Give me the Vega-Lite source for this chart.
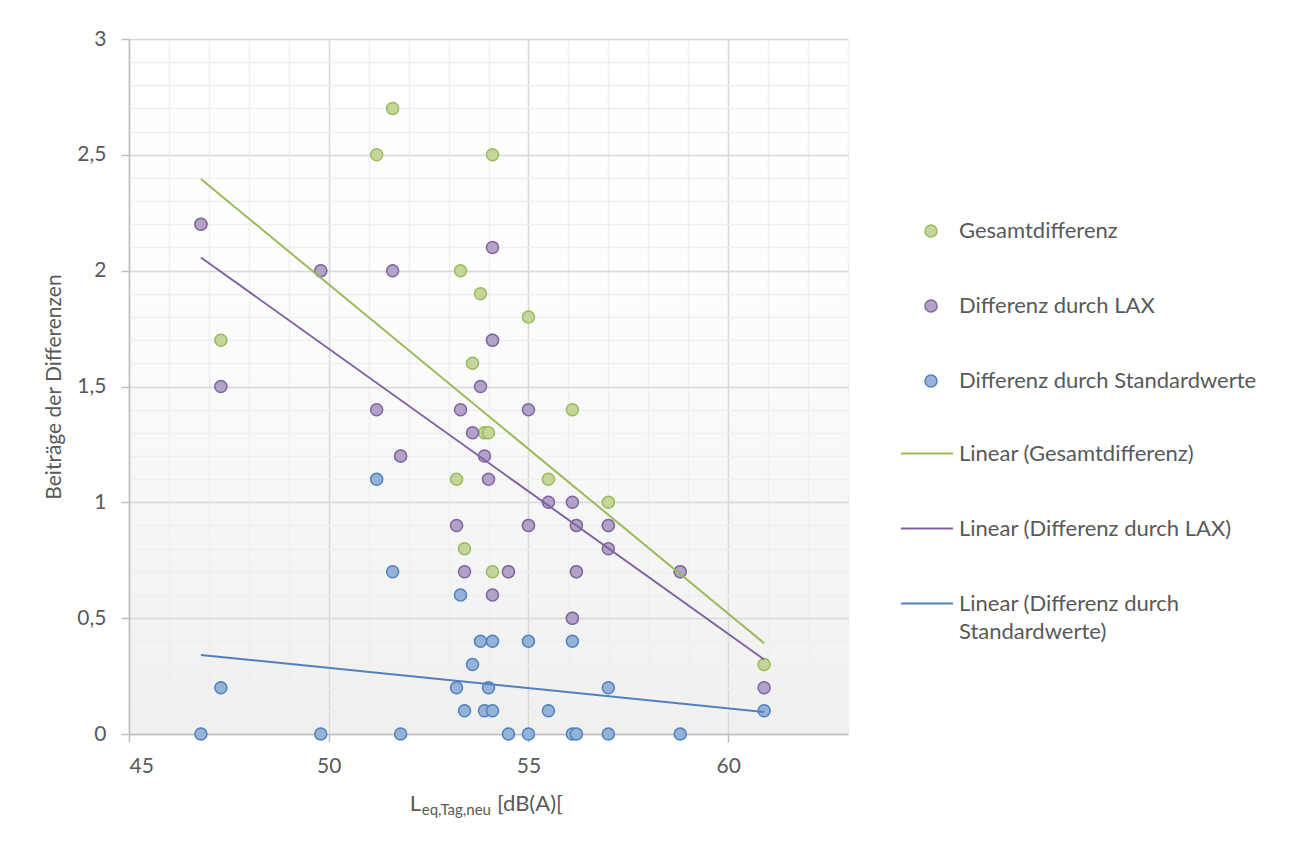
{
  "$schema": "https://vega.github.io/schema/vega-lite/v6.json",
  "width": 719,
  "height": 695,
  "autosize": {"type": "none"},
  "padding": {"left": 129, "top": 39, "right": 445, "bottom": 109},
  "background": "#ffffff",
  "config": {
    "font": "Lato",
    "view": {
      "stroke": null,
      "fill": {"gradient": "linear", "x1": 0, "y1": 0, "x2": 0, "y2": 1,
        "stops": [{"offset": 0, "color": "#ffffff"}, {"offset": 0.35, "color": "#fdfdfd"}, {"offset": 1, "color": "#f0f0f0"}]}
    },
    "legend": {"padding": 0, "labelFont": "Lato", "labelFontSize": 22, "labelColor": "#595959", "labelLimit": 400},
    "style": {"guide-label": {"lineHeight": 28}}
  },
  "datasets": {
    "d": [
      {"x": 46.8, "y": 2.2, "series": "Gesamtdifferenz", "trend": "Linear (Gesamtdifferenz)"},
      {"x": 47.3, "y": 1.7, "series": "Gesamtdifferenz", "trend": "Linear (Gesamtdifferenz)"},
      {"x": 49.8, "y": 2.0, "series": "Gesamtdifferenz", "trend": "Linear (Gesamtdifferenz)"},
      {"x": 51.2, "y": 2.5, "series": "Gesamtdifferenz", "trend": "Linear (Gesamtdifferenz)"},
      {"x": 51.6, "y": 2.7, "series": "Gesamtdifferenz", "trend": "Linear (Gesamtdifferenz)"},
      {"x": 51.8, "y": 1.2, "series": "Gesamtdifferenz", "trend": "Linear (Gesamtdifferenz)"},
      {"x": 53.2, "y": 1.1, "series": "Gesamtdifferenz", "trend": "Linear (Gesamtdifferenz)"},
      {"x": 53.3, "y": 2.0, "series": "Gesamtdifferenz", "trend": "Linear (Gesamtdifferenz)"},
      {"x": 53.4, "y": 0.8, "series": "Gesamtdifferenz", "trend": "Linear (Gesamtdifferenz)"},
      {"x": 53.6, "y": 1.6, "series": "Gesamtdifferenz", "trend": "Linear (Gesamtdifferenz)"},
      {"x": 53.8, "y": 1.9, "series": "Gesamtdifferenz", "trend": "Linear (Gesamtdifferenz)"},
      {"x": 53.9, "y": 1.3, "series": "Gesamtdifferenz", "trend": "Linear (Gesamtdifferenz)"},
      {"x": 54.0, "y": 1.3, "series": "Gesamtdifferenz", "trend": "Linear (Gesamtdifferenz)"},
      {"x": 54.1, "y": 2.5, "series": "Gesamtdifferenz", "trend": "Linear (Gesamtdifferenz)"},
      {"x": 54.1, "y": 0.7, "series": "Gesamtdifferenz", "trend": "Linear (Gesamtdifferenz)"},
      {"x": 54.1, "y": 1.7, "series": "Gesamtdifferenz", "trend": "Linear (Gesamtdifferenz)"},
      {"x": 54.5, "y": 0.7, "series": "Gesamtdifferenz", "trend": "Linear (Gesamtdifferenz)"},
      {"x": 55.0, "y": 1.8, "series": "Gesamtdifferenz", "trend": "Linear (Gesamtdifferenz)"},
      {"x": 55.0, "y": 0.9, "series": "Gesamtdifferenz", "trend": "Linear (Gesamtdifferenz)"},
      {"x": 55.5, "y": 1.1, "series": "Gesamtdifferenz", "trend": "Linear (Gesamtdifferenz)"},
      {"x": 56.1, "y": 1.4, "series": "Gesamtdifferenz", "trend": "Linear (Gesamtdifferenz)"},
      {"x": 56.1, "y": 0.5, "series": "Gesamtdifferenz", "trend": "Linear (Gesamtdifferenz)"},
      {"x": 56.2, "y": 0.9, "series": "Gesamtdifferenz", "trend": "Linear (Gesamtdifferenz)"},
      {"x": 56.2, "y": 0.7, "series": "Gesamtdifferenz", "trend": "Linear (Gesamtdifferenz)"},
      {"x": 57.0, "y": 1.0, "series": "Gesamtdifferenz", "trend": "Linear (Gesamtdifferenz)"},
      {"x": 57.0, "y": 0.9, "series": "Gesamtdifferenz", "trend": "Linear (Gesamtdifferenz)"},
      {"x": 58.8, "y": 0.7, "series": "Gesamtdifferenz", "trend": "Linear (Gesamtdifferenz)"},
      {"x": 60.9, "y": 0.3, "series": "Gesamtdifferenz", "trend": "Linear (Gesamtdifferenz)"},
      {"x": 46.8, "y": 2.2, "series": "Differenz durch LAX", "trend": "Linear (Differenz durch LAX)"},
      {"x": 47.3, "y": 1.5, "series": "Differenz durch LAX", "trend": "Linear (Differenz durch LAX)"},
      {"x": 49.8, "y": 2.0, "series": "Differenz durch LAX", "trend": "Linear (Differenz durch LAX)"},
      {"x": 51.2, "y": 1.4, "series": "Differenz durch LAX", "trend": "Linear (Differenz durch LAX)"},
      {"x": 51.6, "y": 2.0, "series": "Differenz durch LAX", "trend": "Linear (Differenz durch LAX)"},
      {"x": 51.8, "y": 1.2, "series": "Differenz durch LAX", "trend": "Linear (Differenz durch LAX)"},
      {"x": 53.2, "y": 0.9, "series": "Differenz durch LAX", "trend": "Linear (Differenz durch LAX)"},
      {"x": 53.3, "y": 1.4, "series": "Differenz durch LAX", "trend": "Linear (Differenz durch LAX)"},
      {"x": 53.4, "y": 0.7, "series": "Differenz durch LAX", "trend": "Linear (Differenz durch LAX)"},
      {"x": 53.6, "y": 1.3, "series": "Differenz durch LAX", "trend": "Linear (Differenz durch LAX)"},
      {"x": 53.8, "y": 1.5, "series": "Differenz durch LAX", "trend": "Linear (Differenz durch LAX)"},
      {"x": 53.9, "y": 1.2, "series": "Differenz durch LAX", "trend": "Linear (Differenz durch LAX)"},
      {"x": 54.0, "y": 1.1, "series": "Differenz durch LAX", "trend": "Linear (Differenz durch LAX)"},
      {"x": 54.1, "y": 2.1, "series": "Differenz durch LAX", "trend": "Linear (Differenz durch LAX)"},
      {"x": 54.1, "y": 0.6, "series": "Differenz durch LAX", "trend": "Linear (Differenz durch LAX)"},
      {"x": 54.1, "y": 1.7, "series": "Differenz durch LAX", "trend": "Linear (Differenz durch LAX)"},
      {"x": 54.5, "y": 0.7, "series": "Differenz durch LAX", "trend": "Linear (Differenz durch LAX)"},
      {"x": 55.0, "y": 1.4, "series": "Differenz durch LAX", "trend": "Linear (Differenz durch LAX)"},
      {"x": 55.0, "y": 0.9, "series": "Differenz durch LAX", "trend": "Linear (Differenz durch LAX)"},
      {"x": 55.5, "y": 1.0, "series": "Differenz durch LAX", "trend": "Linear (Differenz durch LAX)"},
      {"x": 56.1, "y": 1.0, "series": "Differenz durch LAX", "trend": "Linear (Differenz durch LAX)"},
      {"x": 56.1, "y": 0.5, "series": "Differenz durch LAX", "trend": "Linear (Differenz durch LAX)"},
      {"x": 56.2, "y": 0.9, "series": "Differenz durch LAX", "trend": "Linear (Differenz durch LAX)"},
      {"x": 56.2, "y": 0.7, "series": "Differenz durch LAX", "trend": "Linear (Differenz durch LAX)"},
      {"x": 57.0, "y": 0.8, "series": "Differenz durch LAX", "trend": "Linear (Differenz durch LAX)"},
      {"x": 57.0, "y": 0.9, "series": "Differenz durch LAX", "trend": "Linear (Differenz durch LAX)"},
      {"x": 58.8, "y": 0.7, "series": "Differenz durch LAX", "trend": "Linear (Differenz durch LAX)"},
      {"x": 60.9, "y": 0.2, "series": "Differenz durch LAX", "trend": "Linear (Differenz durch LAX)"},
      {"x": 46.8, "y": 0.0, "series": "Differenz durch Standardwerte", "trend": "Linear (Differenz durch Standardwerte)"},
      {"x": 47.3, "y": 0.2, "series": "Differenz durch Standardwerte", "trend": "Linear (Differenz durch Standardwerte)"},
      {"x": 49.8, "y": 0.0, "series": "Differenz durch Standardwerte", "trend": "Linear (Differenz durch Standardwerte)"},
      {"x": 51.2, "y": 1.1, "series": "Differenz durch Standardwerte", "trend": "Linear (Differenz durch Standardwerte)"},
      {"x": 51.6, "y": 0.7, "series": "Differenz durch Standardwerte", "trend": "Linear (Differenz durch Standardwerte)"},
      {"x": 51.8, "y": 0.0, "series": "Differenz durch Standardwerte", "trend": "Linear (Differenz durch Standardwerte)"},
      {"x": 53.2, "y": 0.2, "series": "Differenz durch Standardwerte", "trend": "Linear (Differenz durch Standardwerte)"},
      {"x": 53.3, "y": 0.6, "series": "Differenz durch Standardwerte", "trend": "Linear (Differenz durch Standardwerte)"},
      {"x": 53.4, "y": 0.1, "series": "Differenz durch Standardwerte", "trend": "Linear (Differenz durch Standardwerte)"},
      {"x": 53.6, "y": 0.3, "series": "Differenz durch Standardwerte", "trend": "Linear (Differenz durch Standardwerte)"},
      {"x": 53.8, "y": 0.4, "series": "Differenz durch Standardwerte", "trend": "Linear (Differenz durch Standardwerte)"},
      {"x": 53.9, "y": 0.1, "series": "Differenz durch Standardwerte", "trend": "Linear (Differenz durch Standardwerte)"},
      {"x": 54.0, "y": 0.2, "series": "Differenz durch Standardwerte", "trend": "Linear (Differenz durch Standardwerte)"},
      {"x": 54.1, "y": 0.4, "series": "Differenz durch Standardwerte", "trend": "Linear (Differenz durch Standardwerte)"},
      {"x": 54.1, "y": 0.1, "series": "Differenz durch Standardwerte", "trend": "Linear (Differenz durch Standardwerte)"},
      {"x": 54.5, "y": 0.0, "series": "Differenz durch Standardwerte", "trend": "Linear (Differenz durch Standardwerte)"},
      {"x": 55.0, "y": 0.4, "series": "Differenz durch Standardwerte", "trend": "Linear (Differenz durch Standardwerte)"},
      {"x": 55.0, "y": 0.0, "series": "Differenz durch Standardwerte", "trend": "Linear (Differenz durch Standardwerte)"},
      {"x": 55.5, "y": 0.1, "series": "Differenz durch Standardwerte", "trend": "Linear (Differenz durch Standardwerte)"},
      {"x": 56.1, "y": 0.4, "series": "Differenz durch Standardwerte", "trend": "Linear (Differenz durch Standardwerte)"},
      {"x": 56.1, "y": 0.0, "series": "Differenz durch Standardwerte", "trend": "Linear (Differenz durch Standardwerte)"},
      {"x": 56.2, "y": 0.0, "series": "Differenz durch Standardwerte", "trend": "Linear (Differenz durch Standardwerte)"},
      {"x": 57.0, "y": 0.2, "series": "Differenz durch Standardwerte", "trend": "Linear (Differenz durch Standardwerte)"},
      {"x": 57.0, "y": 0.0, "series": "Differenz durch Standardwerte", "trend": "Linear (Differenz durch Standardwerte)"},
      {"x": 58.8, "y": 0.0, "series": "Differenz durch Standardwerte", "trend": "Linear (Differenz durch Standardwerte)"},
      {"x": 60.9, "y": 0.1, "series": "Differenz durch Standardwerte", "trend": "Linear (Differenz durch Standardwerte)"}
    ]
  },
  "layer": [
    {
      "data": {"name": "d"},
      "mark": {"type": "circle", "size": 145, "strokeWidth": 1.5, "opacity": 1, "fillOpacity": 1},
      "encoding": {
        "x": {"field": "x", "type": "quantitative",
          "scale": {"domain": [45, 63], "nice": false, "zero": false},
          "axis": {"orient": "bottom", "values": [45,46,47,48,49,50,51,52,53,54,55,56,57,58,59,60,61,62,63], "grid": true, "gridColor": "#efefef", "gridWidth": 1.5, "domain": false, "ticks": false, "labels": false, "title": null}},
        "y": {"field": "y", "type": "quantitative",
          "scale": {"domain": [0, 3], "nice": false, "zero": false},
          "axis": {"orient": "left", "values": [0,0.1,0.2,0.3,0.4,0.5,0.6,0.7,0.8,0.9,1,1.1,1.2,1.3,1.4,1.5,1.6,1.7,1.8,1.9,2,2.1,2.2,2.3,2.4,2.5,2.6,2.7,2.8,2.9,3], "grid": true, "gridColor": "#efefef", "gridWidth": 1.5, "domain": false, "ticks": false, "labels": false, "title": null}},
        "fill": {"field": "series", "type": "nominal",
          "scale": {"domain": ["Gesamtdifferenz", "Differenz durch LAX", "Differenz durch Standardwerte"], "range": ["#c3d69b", "#b3a2c7", "#95b3d7"]},
          "legend": {"orient": "none", "legendX": 791, "legendY": 181, "title": null, "labelOffset": 17, "rowPadding": 53, "symbolSize": 145, "symbolStrokeWidth": 1.5, "symbolType": "circle"}},
        "stroke": {"field": "series", "type": "nominal",
          "scale": {"domain": ["Gesamtdifferenz", "Differenz durch LAX", "Differenz durch Standardwerte"], "range": ["#9bbb59", "#8064a2", "#4f81bd"]},
          "legend": {"orient": "none", "legendX": 791, "legendY": 181, "title": null, "labelOffset": 17, "rowPadding": 53, "symbolSize": 145, "symbolStrokeWidth": 1.5, "symbolType": "circle"}}
      }
    },
    {
      "data": {"name": "d"},
      "transform": [{"regression": "y", "on": "x", "groupby": ["trend"]}],
      "mark": {"type": "line", "strokeWidth": 2},
      "encoding": {
        "x": {"field": "x", "type": "quantitative",
          "axis": {"orient": "bottom", "values": [45, 50, 55, 60], "grid": true, "gridColor": "#d9d9d9", "gridWidth": 1.5, "domain": true, "domainColor": "#bfbfbf", "domainWidth": 1.5, "ticks": true, "tickColor": "#bfbfbf", "tickWidth": 1.5, "tickSize": 8, "labelFont": "Lato", "labelFontSize": 21, "labelColor": "#595959", "labelPadding": 13, "title": null}},
        "y": {"field": "y", "type": "quantitative",
          "axis": {"orient": "left", "values": [0, 0.5, 1, 1.5, 2, 2.5, 3], "grid": true, "gridColor": "#d9d9d9", "gridWidth": 1.5, "domain": true, "domainColor": "#bfbfbf", "domainWidth": 1.5, "ticks": true, "tickColor": "#bfbfbf", "tickWidth": 1.5, "tickSize": 8, "labelFont": "Lato", "labelFontSize": 21, "labelColor": "#595959", "labelPadding": 15, "labelExpr": "replace(toString(datum.value), '.', ',')",
            "title": "Beiträge der Differenzen", "titleFont": "Lato", "titleFontSize": 21, "titleFontWeight": "normal", "titleColor": "#595959", "titlePadding": 12}},
        "color": {"field": "trend", "type": "nominal",
          "scale": {"domain": ["Linear (Gesamtdifferenz)", "Linear (Differenz durch LAX)", "Linear (Differenz durch Standardwerte)"], "range": ["#9bbb59", "#8064a2", "#4f81bd"]},
          "legend": {"orient": "none", "legendX": 771, "legendY": 387.5, "title": null, "labelOffset": 5, "rowPadding": 37, "symbolType": "stroke", "symbolSize": 2704, "symbolStrokeWidth": 2,
            "labelExpr": "datum.label == 'Linear (Differenz durch Standardwerte)' ? ['Linear (Differenz durch', 'Standardwerte)'] : datum.label"}}
      }
    },
    {
      "data": {"values": [{}]},
      "mark": {"type": "text", "text": "L", "align": "right", "baseline": "alphabetic", "font": "Lato", "fontSize": 22, "color": "#595959"},
      "encoding": {
        "x": {"datum": 52.31, "type": "quantitative", "axis": null},
        "y": {"datum": -0.3324, "type": "quantitative", "axis": null}
      }
    },
    {
      "data": {"values": [{}]},
      "mark": {"type": "text", "text": "eq,Tag,neu", "align": "left", "baseline": "alphabetic", "font": "Lato", "fontSize": 15, "color": "#595959"},
      "encoding": {
        "x": {"datum": 52.33, "type": "quantitative", "axis": null},
        "y": {"datum": -0.3475, "type": "quantitative", "axis": null}
      }
    },
    {
      "data": {"values": [{}]},
      "mark": {"type": "text", "text": "[dB(A)[", "align": "left", "baseline": "alphabetic", "font": "Lato", "fontSize": 22, "color": "#595959"},
      "encoding": {
        "x": {"datum": 54.213, "type": "quantitative", "axis": null},
        "y": {"datum": -0.3324, "type": "quantitative", "axis": null}
      }
    }
  ],
  "resolve": {"axis": {"x": "independent", "y": "independent"}}
}
